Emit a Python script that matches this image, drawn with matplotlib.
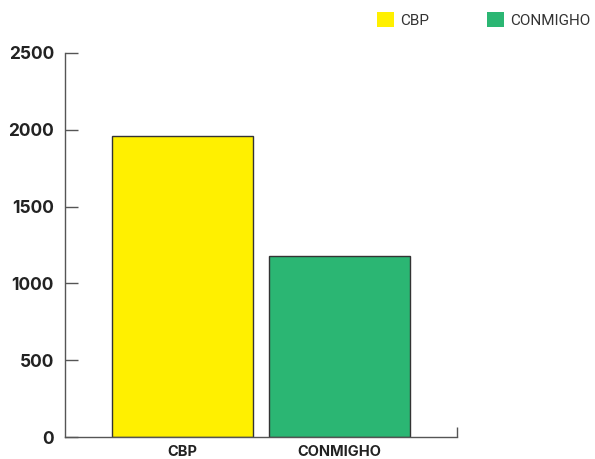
import matplotlib.pyplot as plt
from matplotlib.patches import Patch

categories = ['CBP', 'CONMIGHO']
values = [1960, 1180]
colors = ['#fff000', '#2bb673']
yticks = [0, 500, 1000, 1500, 2000, 2500]

plt.rcParams['font.family'] = ['Inter', 'DejaVu Sans']

fig = plt.figure(figsize=(5.95, 4.59), dpi=100)
ax = fig.add_axes([65/595, 22/459, 392/595, 384/459])

x = list(range(len(categories)))
ax.bar(x, values, width=0.9, color=colors, edgecolor='#333333', linewidth=1)

ax.set_xlim(-0.75, 1.75)
ax.set_ylim(0, 2500)
ax.set_yticks(yticks)
ax.set_yticklabels([str(t) for t in yticks], fontsize=12.5, fontweight='bold', color='#222222')
ax.set_xticks(x)
ax.set_xticklabels(categories, fontsize=10.5, fontweight='bold', color='#222222')
ax.tick_params(axis='x', length=0, pad=6)
ax.tick_params(axis='y', direction='in', length=9, width=1, color='#555555', pad=8)
ax.set_xticks([1.75], minor=True)
ax.tick_params(axis='x', which='minor', direction='in', length=7, width=1, color='#555555')

for s in ['top', 'right']:
    ax.spines[s].set_visible(False)
for s in ['left', 'bottom']:
    ax.spines[s].set_color('#555555')
    ax.spines[s].set_linewidth(1)

handles = [Patch(facecolor=c, edgecolor='none') for c in colors]
fig.legend(handles, categories, loc='upper left', bbox_to_anchor=(377/595, 1 - 12/459), ncol=2,
           frameon=False, prop={'family': 'Roboto', 'size': 11}, handlelength=1.1, handleheight=1.1,
           borderpad=0, borderaxespad=0,
           columnspacing=3.8, handletextpad=0.4, labelcolor='#333333')

fig.savefig('out.png', dpi=100)
